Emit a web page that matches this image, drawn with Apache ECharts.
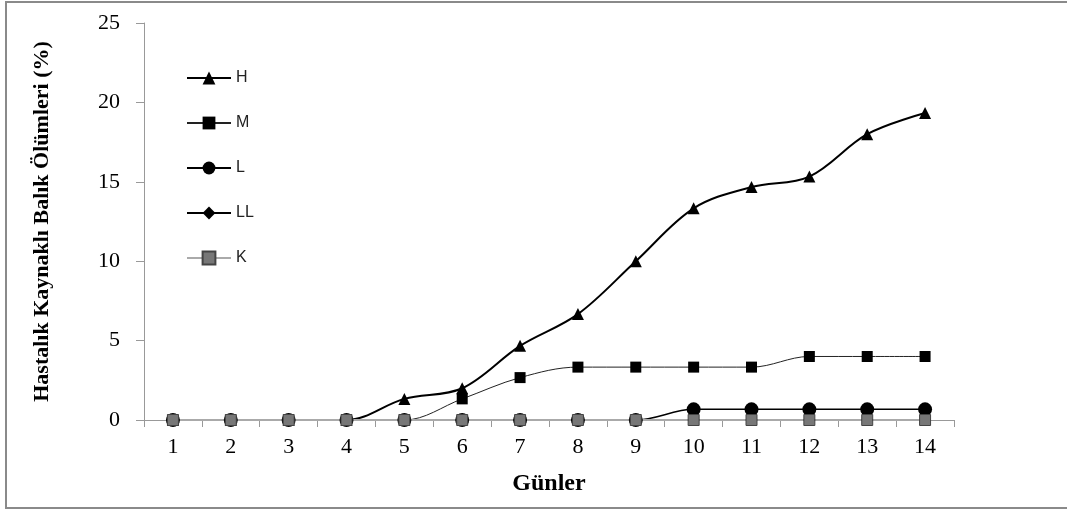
<!DOCTYPE html>
<html><head><meta charset="utf-8">
<script src="https://cdn.jsdelivr.net/npm/echarts@6/dist/echarts.min.js"></script>
<style>html,body{margin:0;padding:0;background:#fff}#c{width:1067px;height:511px}</style>
</head><body><div id="c"></div>
<script>
const days = ['1','2','3','4','5','6','7','8','9','10','11','12','13','14'];
const H  = [0,0,0,0,1.33,2,4.67,6.67,10,13.33,14.67,15.33,18,19.33];
const M  = [0,0,0,0,0,1.33,2.67,3.33,3.33,3.33,3.33,4,4,4];
const L  = [0,0,0,0,0,0,0,0,0,0.67,0.67,0.67,0.67,0.67];
const LL = [0,0,0,0,0,0,0,0,0,0,0,0,0,0];
const K  = [0,0,0,0,0,0,0,0,0,0,0,0,0,0];
const yTicks = [0,5,10,15,20,25];

const chart = echarts.init(document.getElementById('c'));
function mk(name, data, symbol, size, lineColor, lineW, fill, border) {
  return {
    name, type: 'line', data, symbol, symbolSize: size, smooth: 0.35,
    lineStyle: {color: lineColor, width: lineW},
    itemStyle: {color: fill, borderColor: border || fill, borderWidth: border ? 1 : 0, opacity: 1},
    emphasis: {disabled: true}, animation: false
  };
}
chart.setOption({
  animation: false,
  graphic: [{type: 'rect', shape: {x: 6, y: 2, width: 1080, height: 506},
    style: {fill: 'none', stroke: '#8a8a8a', lineWidth: 2}, silent: true}],
  grid: {left: 144, right: 113, top: 23, bottom: 91},
  legend: {
    orient: 'vertical', left: 181, top: 65, itemGap: 29, itemWidth: 44, itemHeight: 16,
    textStyle: {fontFamily: 'Liberation Sans', fontSize: 16, color: '#222'},
    data: ['H','M','L','LL','K']
  },
  xAxis: {
    type: 'category', data: days, boundaryGap: true,
    name: 'Günler', nameLocation: 'middle', nameGap: 52,
    nameTextStyle: {fontFamily: 'Liberation Serif', fontWeight: 'bold', fontSize: 24, color: '#000'},
    axisLine: {lineStyle: {color: '#999', width: 1}},
    axisTick: {show: true, length: 7, alignWithLabel: false, lineStyle: {color: '#999'}},
    axisLabel: {fontFamily: 'Liberation Serif', fontSize: 22, color: '#000', margin: 16}
  },
  yAxis: {
    type: 'value', min: 0, max: 25, interval: 5,
    name: 'Hastalık Kaynaklı Balık Ölümleri (%)', nameLocation: 'middle', nameGap: 91,
    nameTextStyle: {fontFamily: 'Liberation Serif', fontWeight: 'bold', fontSize: 22, color: '#000'},
    axisLine: {show: true, lineStyle: {color: '#999', width: 1}},
    axisTick: {show: true, length: 8, lineStyle: {color: '#999'}},
    splitLine: {show: false},
    axisLabel: {fontFamily: 'Liberation Serif', fontSize: 22, color: '#000', margin: 24,
      formatter: v => yTicks.includes(v) ? String(v) : ''}
  },
  series: [
    mk('H', H, 'triangle', 12, '#000', 2, '#000'),
    mk('M', M, 'rect', 11, '#222', 1, '#000'),
    mk('L', L, 'circle', 14, '#000', 1.5, '#000'),
    mk('LL', LL, 'diamond', 12, '#000', 1, '#000'),
    mk('K', K, 'rect', 11, '#aaa', 2, '#777', '#444')
  ]
});
</script></body></html>
